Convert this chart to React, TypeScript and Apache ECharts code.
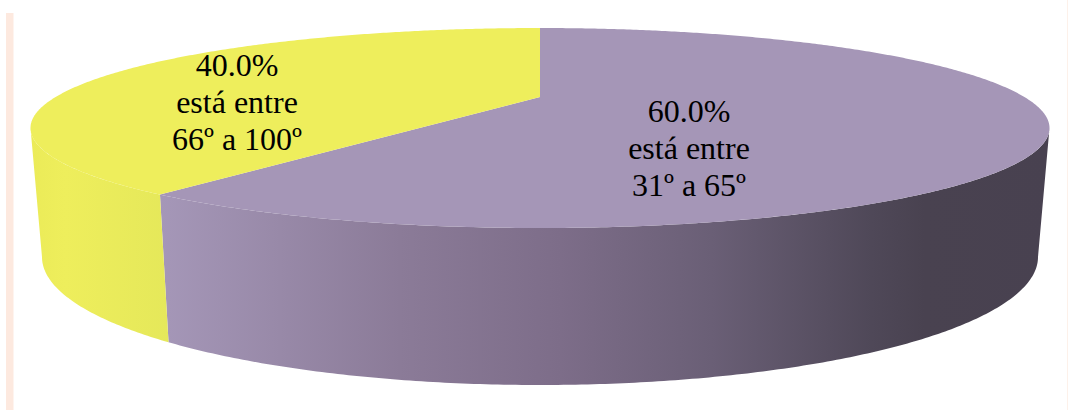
import React, { useEffect, useRef } from "react";
import * as echarts from "echarts";

// Share of each temperature band, clockwise from twelve o'clock
const shares = [60, 40];
const ranges = ["31º a 65º", "66º a 100º"];
const caption = "está entre";

const topColors = ["#a596b7", "#eeee5c"];
const wallStops = [
  [
    { offset: 0, color: "#a597b8" },
    { offset: 0.27, color: "#8b7b98" },
    { offset: 0.45, color: "#7d6d89" },
    { offset: 0.62, color: "#6a5f76" },
    { offset: 0.8, color: "#4f4858" },
    { offset: 0.86, color: "#494250" },
    { offset: 1, color: "#484150" },
  ],
  [
    { offset: 0, color: "#ebeb58" },
    { offset: 0.25, color: "#eeee5c" },
    { offset: 1, color: "#e5e85a" },
  ],
];
const labelAnchors = [
  [689, 148],
  [237, 102],
];

// Rim ellipses of the disc and the tilt that pushes its centre towards the back
const rim = { cx: 540, cy: 128, rx: 509.5, ry: 100 };
const base = { cx: 540, cy: 257, rx: 498, ry: 128 };
const tilt = 0.31;
const frontLimit = Math.acos(-tilt);
const STEP = Math.PI / 360;

function project(e: typeof rim, theta: number): number[] {
  const x = Math.sin(theta);
  const y = -Math.cos(theta);
  const d = 1 - tilt * y;
  return [
    e.cx + (e.rx * x * Math.sqrt(1 - tilt * tilt)) / d,
    e.cy + (e.ry * (y - tilt)) / d,
  ];
}

function arc(e: typeof rim, from: number, to: number): number[][] {
  const n = Math.max(2, Math.ceil((to - from) / STEP));
  const out: number[][] = [];
  for (let i = 0; i <= n; i++) out.push(project(e, from + ((to - from) * i) / n));
  return out;
}

function centre(e: typeof rim): number[] {
  return [e.cx, e.cy + e.ry * -tilt];
}

const total = shares.reduce((a, b) => a + b, 0);

function renderSlice(params: any, api: any) {
  const i = params.dataIndex;
  const before = shares.slice(0, i).reduce((a, b) => a + b, 0);
  const start = (before / total) * 2 * Math.PI;
  const end = start + (Number(api.value(0)) / total) * 2 * Math.PI;

  const children: any[] = [];
  // Only the front of the disc shows a wall
  const wFrom = Math.max(start, frontLimit);
  const wTo = Math.min(end, 2 * Math.PI - frontLimit);
  if (wTo > wFrom) {
    children.push({
      type: "polygon",
      shape: { points: [...arc(rim, wFrom, wTo), ...arc(base, wFrom, wTo).reverse()] },
      style: { fill: new echarts.graphic.LinearGradient(0, 0, 1, 0, wallStops[i]) },
    });
  }
  children.push({
    type: "polygon",
    shape: { points: [centre(rim), ...arc(rim, start, end)] },
    style: { fill: topColors[i] },
  });
  children.push({
    type: "text",
    x: labelAnchors[i][0],
    y: labelAnchors[i][1],
    style: {
      text: `${Number(api.value(0)).toFixed(1)}%\n${caption}\n${ranges[i]}`,
      font: '32px "Liberation Serif"',
      lineHeight: 37,
      fill: "#000000",
      textAlign: "center",
      textVerticalAlign: "middle",
    },
  });
  return { type: "group", children };
}

export default function App() {
  const ref = useRef<HTMLDivElement>(null);
  useEffect(() => {
    const chart = echarts.init(ref.current!, null, { renderer: "svg" });
    chart.setOption({
      animation: false,
      backgroundColor: "#ffffff",
      graphic: [
        { type: "rect", shape: { x: 6, y: 13, width: 7.5, height: 397 }, style: { fill: "#fde9df" } },
        { type: "rect", shape: { x: 1067, y: 0, width: 1, height: 410 }, style: { fill: "#fdf1ea" } },
      ],
      series: [
        {
          type: "custom",
          coordinateSystem: "none",
          data: shares.map((v) => [v]),
          renderItem: renderSlice,
          silent: true,
        },
      ],
    });
    return () => chart.dispose();
  }, []);
  return <div ref={ref} style={{ position: "fixed", left: 0, top: 0, width: 1068, height: 410 }} />;
}
